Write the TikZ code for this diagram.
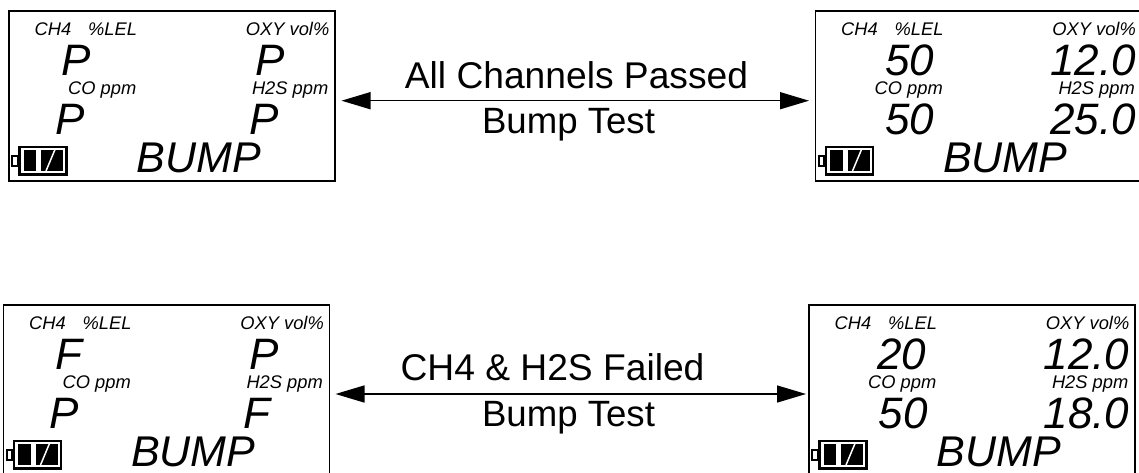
\documentclass[tikz,border=0pt]{standalone}
\usepackage{fontspec}
\setmainfont{Liberation Sans}
\usetikzlibrary{arrows.meta}
\tikzset{
  x=1pt,y=-1pt,
  frame/.style={draw=black,line width=1.6pt,fill=white,minimum width=326pt,minimum height=170pt,inner sep=0pt,outer sep=0pt,anchor=north west},
  small/.style={inner sep=0pt,font=\fontsize{18.3}{18.3}\selectfont\itshape},
  smallL/.style={small,anchor=base west},
  smallR/.style={small,anchor=base east},
  big/.style={inner sep=0pt,font=\fontsize{44}{44}\selectfont\itshape},
  bigL/.style={big,anchor=base west},
  bigR/.style={big,anchor=base east},
  mode/.style={inner sep=0pt,anchor=base west,font=\fontsize{43}{43}\selectfont\itshape},
  caption/.style={inner sep=0pt,anchor=base,font=\fontsize{37.2}{37.2}\selectfont},
  captionB/.style={inner sep=0pt,anchor=base,font=\fontsize{36.6}{36.6}\selectfont},
  link/.style={line width=1.5pt,{Triangle[length=29pt,width=17pt]}-{Triangle[length=29pt,width=17pt]}},
}
\newcommand{\panelbase}[1]{%
  \node[frame] (#1) at (9,11) {};
  \node[smallL] (#1ch) at (34.5,35.7) {CH4};
  \node[smallL] (#1lel) at (88,35.7) {\%LEL};
  \node[smallR] (#1oxy) at (329.5,35.7) {OXY vol\%};
  \node[smallL] (#1co) at (68,94) {CO ppm};
  \node[smallR] (#1hs) at (328.5,94) {H2S ppm};
  \node[mode] (#1mode) at (136.5,172) {BUMP};
  \draw[black,line width=2.7pt] (19.6,147) rectangle (66.4,174.4);
  \draw[black,line width=2.2pt] (12.1,156) rectangle (18,166);
  \fill[black] (23.5,150) rectangle (63,170.5);
  \fill[white] (36,150) rectangle (41,170.5);
  \draw[white,line width=1.5pt] (46,171) -- (55,149.5);
}
\begin{document}
\begin{tikzpicture}
\useasboundingbox (0,0) rectangle (1139,472);
\clip (0,0) rectangle (1139,472);
\begin{scope}
  \panelbase{a}
  \node[bigL] (aa) at (61,75) {P};
  \node[bigL] (ab) at (255,75) {P};
  \node[bigL] (ac) at (55,134) {P};
  \node[bigL] (ad) at (249,134) {P};
\end{scope}
\begin{scope}[shift={(806.5,0)}]
  \panelbase{b}
  \node[bigL] (ba) at (78.5,75) {50};
  \node[bigR] (bb) at (329.5,75) {12.0};
  \node[bigL] (bc) at (78.5,134) {50};
  \node[bigR] (bd) at (329.5,134) {25.0};
\end{scope}
\begin{scope}[shift={(-5.5,294)}]
  \panelbase{c}
  \node[bigL] (ca) at (61,75) {F};
  \node[bigL] (cb) at (255,75) {P};
  \node[bigL] (cc) at (55,134) {P};
  \node[bigL] (cd) at (249,134) {F};
\end{scope}
\begin{scope}[shift={(800,294)}]
  \panelbase{d}
  \node[bigL] (da) at (77,75) {20};
  \node[bigR] (db) at (329.5,75) {12.0};
  \node[bigL] (dc) at (78.5,134) {50};
  \node[bigR] (dd) at (329.5,134) {18.0};
\end{scope}
\node[caption] (t1) at (576.5,88) {All Channels Passed};
\node[captionB] (t2) at (568.5,133) {Bump Test};
\node[caption] (t3) at (552.5,380) {CH4 \& H2S Failed};
\node[captionB] (t4) at (568.5,426) {Bump Test};
\draw[link] ([shift={(6.5,4.7)}]a.east) -- ([shift={(-6.5,4.7)}]b.west);
\draw[link] ([shift={(6,4)}]c.east) -- ([shift={(-3,4)}]d.west);
\end{tikzpicture}
\end{document}
